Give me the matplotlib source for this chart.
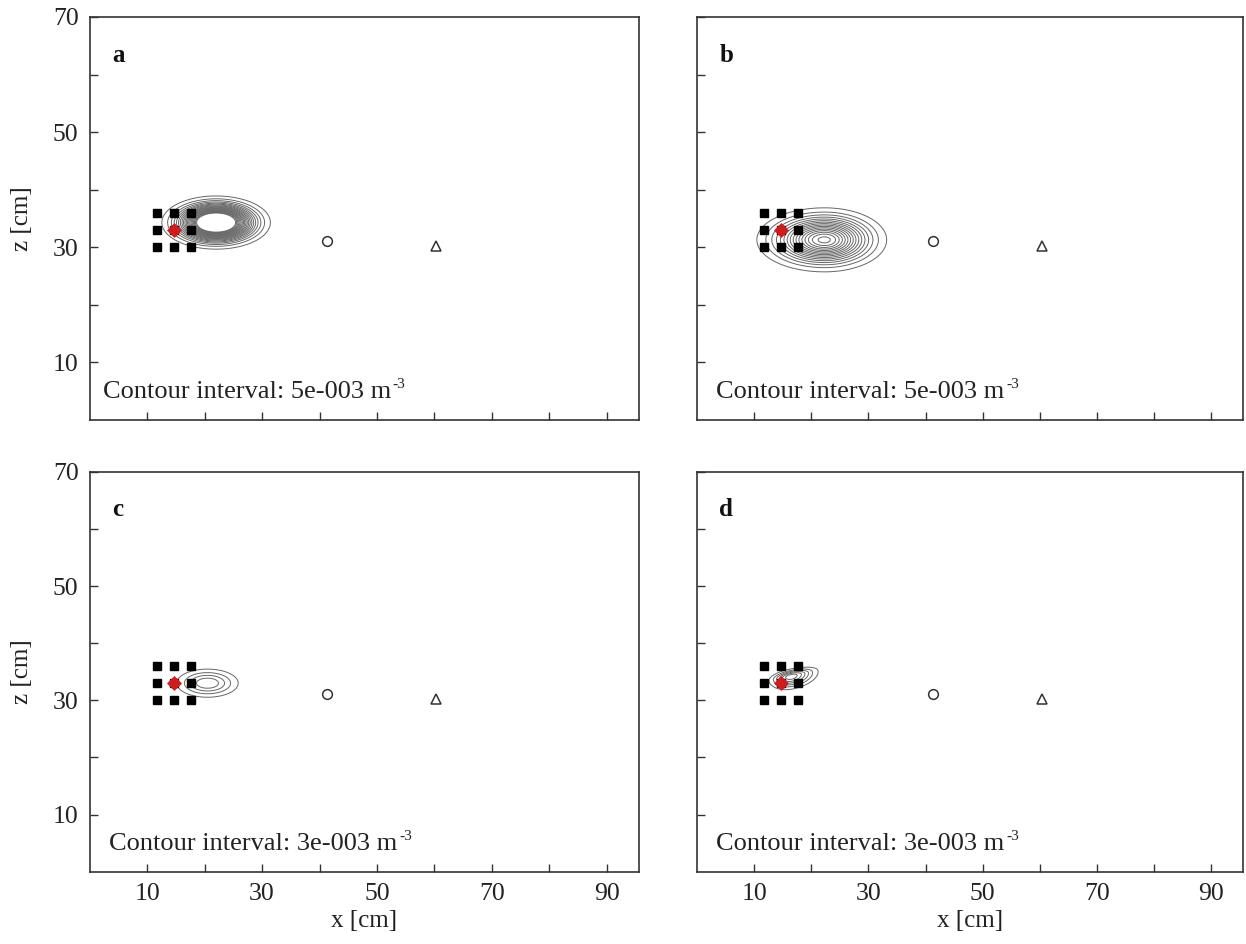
import numpy as np
import matplotlib
matplotlib.use("Agg")
import matplotlib.pyplot as plt
from matplotlib.ticker import FixedLocator, FixedFormatter

plt.rcParams['font.family'] = ['Liberation Serif', 'DejaVu Serif']

# panel settings
panel_labels = ['a', 'b', 'c', 'd']
intervals = [5e-3, 5e-3, 3e-3, 3e-3]
interval_text = ['5e-003', '5e-003', '3e-003', '3e-003']
n_levels = [20, 16, 4, 6]

# plume shape (cm); peak in m^-3
plume_x = [22.0, 22.3, 20.5, 16.4]
plume_z = [34.3, 31.3, 33.0, 34.2]
plume_peak = [0.156, 0.082, 0.0147, 0.020]
plume_sx_left = [3.6, 5.0, 3.0, 2.0]
plume_sx_right = [3.6, 4.6, 3.0, 2.5]
plume_sz_down = [1.76, 2.35, 1.38, 1.15]
plume_sz_up = [1.76, 2.35, 1.38, 0.65]
plume_tilt = [0, 0, 0, 12]  # degrees

# sensor positions (cm)
grid_x = [11.7, 14.7, 17.7]
grid_z = [30.0, 33.0, 36.0]
source_x, source_z = 14.7, 33.0
circle_x, circle_z = 41.3, 31.1
triangle_x, triangle_z = 60.3, 30.2

x_ticks = [10, 20, 30, 40, 50, 60, 70, 80, 90]
x_ticklabels = ['10', '', '30', '', '50', '', '70', '', '90']
z_ticks = [10, 20, 30, 40, 50, 60, 70]
z_ticklabels = ['10', '', '30', '', '50', '', '70']

axis_color = '#333333'
text_color = '#222222'


def plume_field(i, X, Z):
    t = np.deg2rad(plume_tilt[i])
    dx = X - plume_x[i]
    dz = Z - plume_z[i]
    u = dx * np.cos(t) + dz * np.sin(t)
    v = -dx * np.sin(t) + dz * np.cos(t)
    sx = np.where(u < 0, plume_sx_left[i], plume_sx_right[i])
    sz = np.where(v < 0, plume_sz_down[i], plume_sz_up[i])
    return plume_peak[i] * np.exp(-(u ** 2 / (2 * sx ** 2) + v ** 2 / (2 * sz ** 2)))


fig = plt.figure(figsize=(12.46, 9.44), dpi=100)
positions = [
    [0.072, 0.555, 0.4408, 0.427],
    [0.5594, 0.555, 0.4385, 0.427],
    [0.072, 0.0766, 0.4408, 0.4236],
    [0.5594, 0.0766, 0.4385, 0.4236],
]

xs = np.linspace(0, 95.6, 900)
zs = np.linspace(0, 70, 700)
X, Z = np.meshgrid(xs, zs)

for i, pos in enumerate(positions):
    ax = fig.add_axes(pos)
    field = plume_field(i, X, Z)
    levels = intervals[i] * np.arange(1, n_levels[i] + 1)
    ax.contour(X, Z, field, levels=levels, colors='0.4', linewidths=0.7)

    gx, gz = np.meshgrid(grid_x, grid_z)
    ax.plot(gx.ravel(), gz.ravel(), 's', color='black', markersize=5.5, linestyle='none')
    ax.plot([source_x], [source_z], 'D', color='#d01c1c', markersize=7, mew=0.5)
    ax.plot([circle_x], [circle_z], 'o', mfc='none', mec='#333333', mew=1.1, markersize=7)
    ax.plot([triangle_x], [triangle_z], '^', mfc='none', mec='#333333', mew=1.1, markersize=7)

    ax.set_xlim(0, 95.6)
    ax.set_ylim(0, 70)
    ax.xaxis.set_major_locator(FixedLocator(x_ticks))
    ax.yaxis.set_major_locator(FixedLocator(z_ticks))
    ax.tick_params(direction='in', length=6, width=1.0, color=axis_color,
                   labelsize=18.5, labelcolor=text_color, pad=8)
    if i in (0, 2):
        ax.yaxis.set_major_formatter(FixedFormatter(z_ticklabels))
        ax.set_ylabel('z [cm]', fontsize=18, color=text_color, labelpad=14)
    else:
        ax.set_yticklabels([])
    if i in (2, 3):
        ax.xaxis.set_major_formatter(FixedFormatter(x_ticklabels))
        ax.set_xlabel('x [cm]', fontsize=18, color=text_color, labelpad=4)
    else:
        ax.set_xticklabels([])
    for s in ax.spines.values():
        s.set_linewidth(1.2)
        s.set_color(axis_color)

    ax.text(3.9, 62.2, panel_labels[i], fontsize=18, fontweight='bold', color='#111111')
    tx = 2.3 if i == 0 else 3.4
    t = ax.text(tx, 3.8, 'Contour interval: ' + interval_text[i] + ' m',
                fontsize=19, color=text_color, va='baseline')
    ax.annotate('-3', xy=(1.0, 1.0), xycoords=t, xytext=(1, 2),
                textcoords='offset points', fontsize=11, color=text_color,
                ha='left', va='top')

fig.savefig('out.png', dpi=100)
